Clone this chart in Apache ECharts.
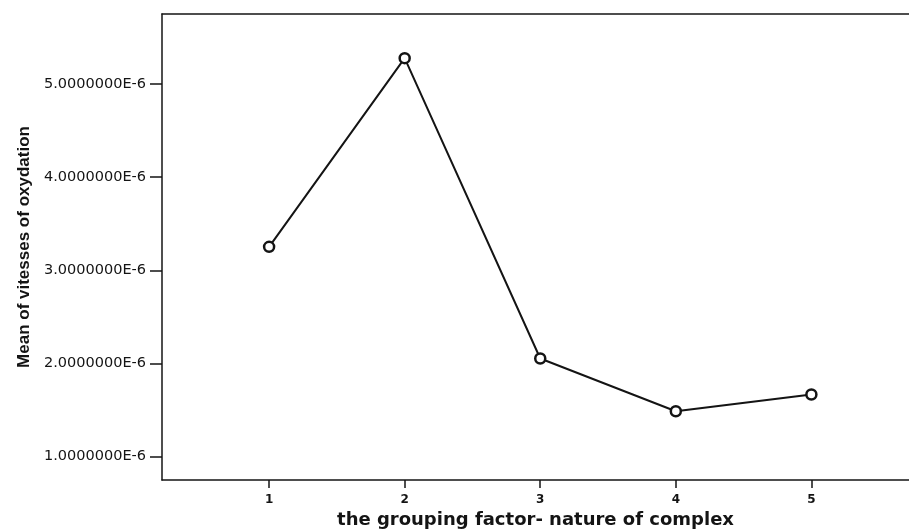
<!DOCTYPE html>
<html>
<head>
<meta charset="utf-8">
<title>Mean of vitesses of oxydation</title>
<script src="https://cdn.jsdelivr.net/npm/echarts@6/dist/echarts.min.js"></script>
<style>
  html, body { margin: 0; padding: 0; background: #fff; }
  #chart { width: 909px; height: 532px; }
</style>
</head>
<body>
<div id="chart"></div>
<script>
// grouping factor (nature of complex)
const groups = [1, 2, 3, 4, 5]
// mean oxidation rates
const meanRates = [3.252e-6, 5.276e-6, 2.054e-6, 1.488e-6, 1.667e-6]
// y tick positions and their printed labels
const yTickValues = [1e-6, 2e-6, 3e-6, 4e-6, 5e-6]
const yTickLabels = ['1.0000000E-6', '2.0000000E-6', '3.0000000E-6', '4.0000000E-6', '5.0000000E-6']

const ink = '#141414'

const chart = echarts.init(document.getElementById('chart'))

const option = {
  backgroundColor: '#fff',
  animation: false,
  grid: {
    left: 162,
    right: 0,
    top: 14,
    bottom: 52,
    outerBoundsMode: 'none'
  },
  xAxis: [
    {
      type: 'value',
      min: 0.21,
      max: 5.72,
      name: 'the grouping factor- nature of complex',
      nameLocation: 'middle',
      nameGap: 31,
      nameTextStyle: {
        fontFamily: 'DejaVu Sans, sans-serif',
        fontWeight: 'bold',
        fontSize: 18,
        color: ink
      },
      axisLine: { show: true, onZero: false, lineStyle: { color: ink, width: 1.5 } },
      axisTick: {
        show: true,
        length: 8,
        customValues: groups,
        lineStyle: { color: ink, width: 1.5 }
      },
      axisLabel: {
        customValues: groups,
        margin: 14,
        fontFamily: 'DejaVu Sans, sans-serif',
        fontWeight: 'bold',
        fontSize: 12,
        color: ink
      },
      splitLine: { show: false }
    },
    {
      // top frame line
      type: 'value',
      position: 'top',
      min: 0.21,
      max: 5.72,
      axisLine: { show: true, lineStyle: { color: ink, width: 1.5 } },
      axisTick: { show: false },
      axisLabel: { show: false },
      splitLine: { show: false }
    }
  ],
  yAxis: {
    type: 'value',
    min: 0.75e-6,
    max: 5.75e-6,
    name: 'Mean of vitesses of oxydation',
    nameLocation: 'middle',
    nameGap: 129,
    nameTextStyle: {
      fontFamily: 'Liberation Sans, Arial, sans-serif',
      fontWeight: 'bold',
      fontSize: 17,
      color: ink
    },
    axisLine: { show: true, lineStyle: { color: ink, width: 1.5 } },
    axisTick: {
      show: true,
      length: 12,
      customValues: yTickValues,
      lineStyle: { color: ink, width: 1.5 }
    },
    axisLabel: {
      customValues: yTickValues,
      margin: 16,
      fontFamily: 'DejaVu Sans, sans-serif',
      fontSize: 14.5,
      color: ink,
      formatter: (v) => {
        const i = yTickValues.findIndex(t => Math.abs(t - v) < 1e-9)
        return i >= 0 ? yTickLabels[i] : ''
      }
    },
    splitLine: { show: false }
  },
  series: [
    {
      type: 'line',
      data: groups.map((g, i) => [g, meanRates[i]]),
      symbol: 'circle',
      symbolSize: 10,
      lineStyle: { color: ink, width: 2 },
      itemStyle: { color: '#fff', borderColor: ink, borderWidth: 2.5 },
      z: 3
    }
  ]
}

chart.setOption(option)
</script>
</body>
</html>
